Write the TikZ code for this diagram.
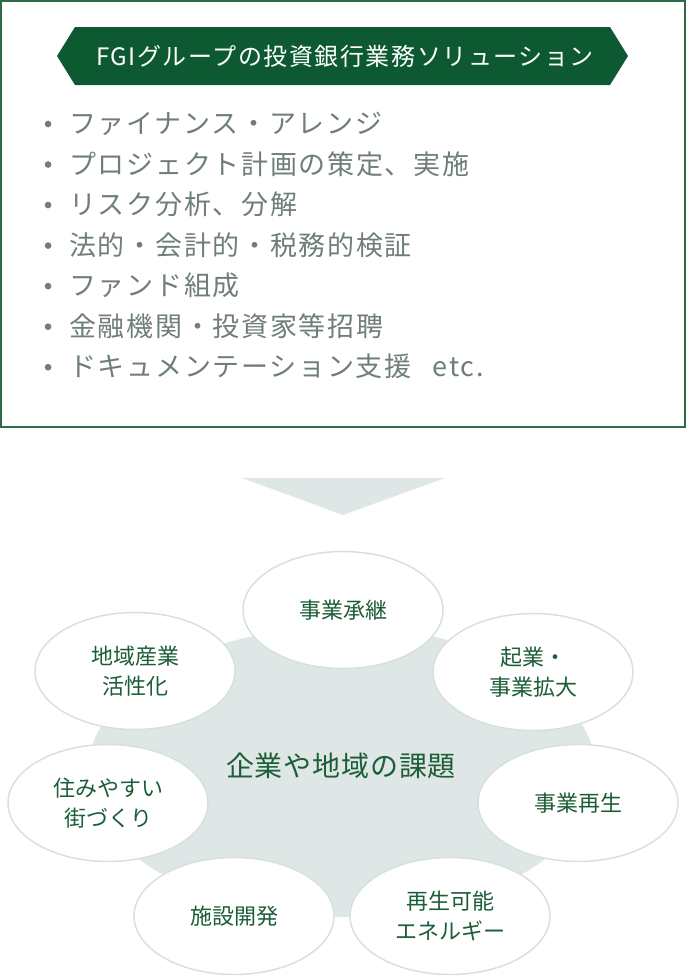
\documentclass[tikz,border=0pt]{standalone}
\usepackage{fontspec}
\setmainfont{Noto Sans CJK JP}
\newfontfamily\itemfont{Noto Sans CJK JP}[LetterSpace=6.3]
\newfontfamily\titlefont{Noto Sans CJK JP}[LetterSpace=6.5]
\newfontfamily\issuefont{Noto Sans CJK JP}[LetterSpace=3]
\usepackage{xcolor}
\usetikzlibrary{positioning,shapes.geometric}

\definecolor{fgigreen}{HTML}{0D5A32}
\definecolor{framegreen}{HTML}{2F6B47}
\definecolor{itemgray}{HTML}{6F7E7A}
\definecolor{themegreen}{HTML}{1C5E37}
\definecolor{mist}{HTML}{DFE7E6}
\definecolor{ringgray}{HTML}{D5E1DF}

\begin{document}
\begin{tikzpicture}[x=0.75pt, y=-0.75pt, node distance=10pt,
	item/.style={font=\itemfont\fontsize{20.25}{20.25}\selectfont, text=itemgray, inner sep=0pt,
		text height=17.2pt, text depth=2.8pt, label={[dot, label distance=13pt]west:{}}},
	dot/.style={circle, fill=itemgray, minimum size=5pt, inner sep=0pt, text height=0pt, text depth=0pt},
	title/.style={font=\titlefont\fontsize{18}{18}\selectfont, text=white, inner sep=0pt},
	hub/.style={ellipse, fill=mist, minimum width=381pt, minimum height=217.5pt, inner sep=0pt},
	issue/.style={font=\issuefont\fontsize{21}{21}\selectfont, text=themegreen, inner sep=0pt},
	theme/.style={ellipse, draw=ringgray, line width=1.1pt, fill=white, minimum width=150pt,
		minimum height=87.75pt, inner sep=0pt, align=center, text=themegreen,
		font=\fontsize{16.5}{22.5}\selectfont}]
	\useasboundingbox (0,0) rectangle (686,978);
	
	\draw[framegreen, line width=1.5pt] (1,1) rectangle (685,427);
	
	\fill[fgigreen] (57,56) -- (75,27) -- (610,27) -- (628,56) -- (610,85) -- (75,85) -- cycle;
	\node[title] (title) at (345,56) {FGIグループの投資銀行業務ソリューション};
	
	\node[item, anchor=west] (finance) at (69,124) {ファイナンス・アレンジ};
	\node[item, below=of finance.south west, anchor=north west] (project) {プロジェクト計画の策定、実施};
	\node[item, below=of project.south west, anchor=north west] (risk) {リスク分析、分解};
	\node[item, below=of risk.south west, anchor=north west] (legal) {法的・会計的・税務的検証};
	\node[item, below=of legal.south west, anchor=north west] (fund) {ファンド組成};
	\node[item, below=of fund.south west, anchor=north west] (investor) {金融機関・投資家等招聘};
	\node[item, below=of investor.south west, anchor=north west] (document) {ドキュメンテーション支援\hspace{16pt}etc.};
	
	\fill[mist] (242,478) -- (445,478) -- (343,515) -- cycle;
	
	\node[hub] (hub) at (342,772) {};
	\node[issue] (issue) at (341,766) {企業や地域の課題};
	
	\node[theme] (succession) at (343,610) {事業承継};
	\node[theme] (regional) at (135,671) {地域産業\\活性化};
	\node[theme] (startup) at (533,672) {起業・\\事業拡大};
	\node[theme] (town) at (108,803) {住みやすい\\街づくり};
	\node[theme] (revival) at (578,803) {事業再生};
	\node[theme] (facility) at (234,916) {施設開発};
	\node[theme] (renewable) at (450,916) {再生可能\\エネルギー};
	
\end{tikzpicture}
\end{document}
